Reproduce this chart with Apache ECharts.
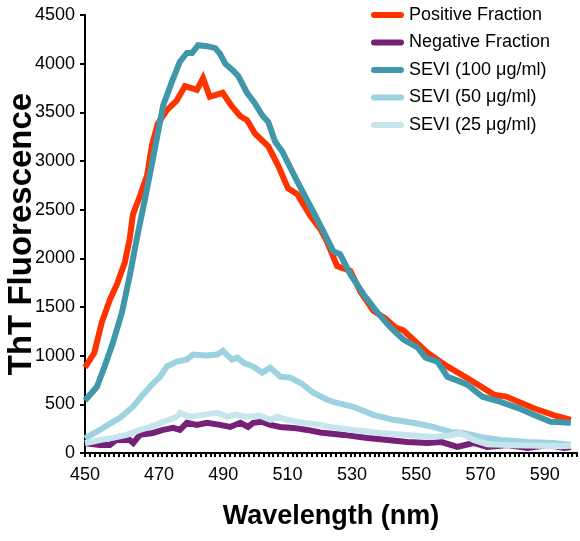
<!DOCTYPE html>
<html>
<head>
<meta charset="utf-8">
<script src="https://cdn.jsdelivr.net/npm/echarts@6/dist/echarts.min.js"></script>
<style>
html,body{margin:0;padding:0;background:#fff;}
#chart{width:580px;height:541px;}
</style>
</head>
<body>
<div id="chart"></div>
<script>
// Wavelength (nm) / ThT fluorescence pairs
const positive = [[447,880],[449.9,1030],[452.2,1340],[454.8,1580],[457.0,1740],[459.4,1960],[460.9,2200],[461.9,2450],[464.2,2650],[466.3,2850],[467.8,3160],[469.6,3380],[472.4,3520],[475.5,3620],[478.1,3770],[481.8,3730],[483.7,3850],[485.8,3660],[489.8,3700],[492.7,3560],[495.3,3460],[497.4,3420],[499.9,3280],[504.0,3150],[507.1,2950],[510.1,2720],[513.0,2660],[517.0,2440],[520.2,2300],[522.3,2170],[525.4,1920],[529.5,1870],[532.6,1660],[536.7,1460],[540.5,1380],[543.5,1290],[546.0,1260],[548.3,1190],[553.5,1030],[559.7,890],[566.9,750],[574.1,600],[578.0,580],[581.6,530],[586.6,460],[592.7,390],[598.1,340]];
const negative = [[447,100],[451.6,83],[454.7,83],[456.8,134],[460.9,134],[462.0,103],[464.1,186],[468.1,206],[471.3,237],[474.4,258],[476.5,237],[478.7,310],[481.8,289],[484.9,310],[489.0,289],[492.1,268],[495.3,310],[497.7,268],[499.3,310],[502.1,320],[504.6,289],[507.7,268],[511.8,258],[516.1,237],[520.2,210],[527.4,186],[534.8,155],[541.1,134],[547.2,114],[553.5,103],[557.6,114],[562.8,62],[567.8,103],[572.1,62],[578.4,83],[584.6,52],[590.9,83],[595.9,52],[598.1,62]];
const sevi100 = [[447,540],[450.7,680],[453.1,890],[455.7,1135],[458.5,1445],[460.9,1820],[463.4,2250],[465.6,2600],[468.1,3020],[471.3,3570],[474.1,3820],[476.5,4020],[478.7,4110],[480.3,4110],[482.2,4190],[484.9,4180],[487.5,4160],[489.0,4100],[490.6,4000],[493.0,3930],[494.7,3870],[497.4,3700],[499.9,3590],[502.1,3470],[504.0,3400],[506.1,3200],[508.3,3100],[513.0,2790],[517.0,2540],[521.1,2280],[524.2,2074],[526.3,2043],[529.5,1837],[533.6,1631],[537.9,1445],[542.0,1290],[546.0,1166],[550.4,1084],[552.9,980],[556.6,939],[559.7,784],[563.7,733],[565.9,702],[570.6,578],[576.2,526],[581.5,464],[586.5,392],[591.8,320],[598.1,310]];
const sevi50 = [[447,150],[451.6,237],[454.1,289],[457.9,361],[461.9,475],[465.0,599],[467.8,702],[470.4,784],[472.4,888],[475.6,939],[478.7,960],[480.6,1011],[484.9,1001],[488.1,1011],[489.9,1050],[492.7,960],[494.4,980],[496.2,929],[499.3,888],[502.1,826],[504.6,877],[507.7,784],[510.9,774],[514.4,712],[518.0,619],[522.3,547],[524.2,526],[530.4,475],[536.7,392],[542.9,341],[549.1,310],[555.3,268],[560.7,217],[564.7,206],[570.0,165],[576.2,134],[584.6,114],[592.7,103],[598.1,83]];
const sevi25 = [[447,100],[451.6,134],[455.7,155],[460.0,186],[464.1,237],[467.2,268],[471.3,320],[475.6,372],[476.5,413],[479.7,372],[483.7,392],[488.1,413],[491.2,372],[493.6,392],[497.4,372],[501.4,382],[504.6,341],[506.8,372],[509.8,341],[514.8,310],[520.2,289],[523.2,268],[530.4,237],[538.8,206],[547.2,186],[555.3,165],[560.6,180],[563.7,206],[567.8,134],[572.1,90],[580.3,80],[588.7,75],[595.0,70],[598.1,75]];

const seriesNames = ['Positive Fraction','Negative Fraction','SEVI (100 \u03bcg/ml)','SEVI (50 \u03bcg/ml)','SEVI (25 \u03bcg/ml)'];
const seriesColors = ['#FF3300','#76207A','#3F97A9','#9DD2E0','#C6E5EE'];
const seriesData = [positive, negative, sevi100, sevi50, sevi25];
// tick label positions (axis origin carries the "450" label as in the figure)
const xLabelValues = [447,470,490,510,530,550,570,590];
const xLabelTexts  = ['450','470','490','510','530','550','570','590'];
const xMin = 447, xMax = 600, xTickStep = 1.5;

const xTickValues = [];
for (let k = 0; xMin + k * xTickStep <= xMax + 1e-9; k++) xTickValues.push(+(xMin + k * xTickStep).toFixed(2));

const FONT = '"Liberation Sans", Arial, Helvetica, sans-serif';
const chart = echarts.init(document.getElementById('chart'), null, {renderer:'canvas'});

const option = {
  animation: false,
  backgroundColor: '#fff',
  grid: {left: 85, right: 3, top: 15, bottom: 88, containLabel: false, outerBoundsMode: 'none'},
  legend: {
    orient: 'vertical', left: 366, top: 1,
    itemWidth: 33, itemHeight: 6, itemGap: 9.5,
    icon: 'path://M3,0 L30,0 A3,3 0 0 1 30,6 L3,6 A3,3 0 0 1 3,0 Z',
    textStyle: {fontSize: 18, color: '#000', fontFamily: FONT, lineHeight: 18},
    data: seriesNames
  },
  xAxis: {
    type: 'value', min: xMin, max: xMax, interval: 1, position: 'bottom',
    axisLine: {show: true, onZero: false, lineStyle: {color: '#000', width: 2}},
    axisTick: {show: true, customValues: xTickValues, length: 4, lineStyle: {color: '#000', width: 2}},
    splitLine: {show: false},
    axisLabel: {
      customValues: xLabelValues,
      fontSize: 18, color: '#000', fontFamily: FONT, margin: 13,
      formatter: function (v) {
        for (let i = 0; i < xLabelValues.length; i++) {
          if (Math.abs(v - xLabelValues[i]) < 1e-6) return xLabelTexts[i];
        }
        return '';
      }
    },
    name: 'Wavelength (nm)', nameLocation: 'middle', nameGap: 50,
    nameTextStyle: {fontSize: 27, fontWeight: 'bold', color: '#000', fontFamily: FONT}
  },
  yAxis: {
    type: 'value', min: 0, max: 4500, interval: 500,
    axisLine: {show: true, onZero: false, lineStyle: {color: '#000', width: 2}},
    axisTick: {show: true, length: 5, lineStyle: {color: '#000', width: 2}},
    splitLine: {show: false},
    axisLabel: {fontSize: 18, color: '#000', fontFamily: FONT, margin: 10,
      formatter: function (v) { return String(v); }},
    name: 'ThT Fluorescence', nameLocation: 'middle', nameGap: 47, nameMoveOverlap: false,
    nameTextStyle: {fontSize: 33, fontWeight: 'bold', color: '#000', fontFamily: FONT}
  },
  series: seriesNames.map(function (name, i) {
    return {
      name: name, type: 'line',
      data: seriesData[i], showSymbol: false, symbol: 'none',
      color: seriesColors[i],
      lineStyle: {width: 6, color: seriesColors[i], cap: 'butt', join: 'miter'},
      z: 2 + i
    };
  })
};
chart.setOption(option);
</script>
</body>
</html>
